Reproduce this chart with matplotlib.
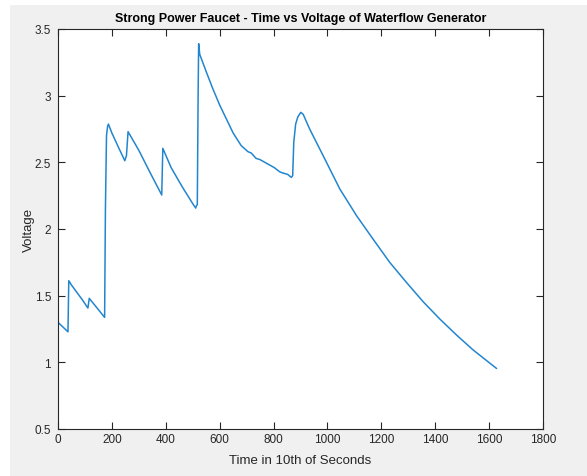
import matplotlib
matplotlib.use("Agg")
import matplotlib.pyplot as plt
from matplotlib.patches import Rectangle

# valori (tempo in decimi di secondo, tensione in volt)
tempo = [0, 37, 40, 50, 68, 90, 111, 116, 140, 173, 176, 180, 184, 187, 200, 225, 248, 254,
         260, 300, 340, 385, 389, 420, 460, 500, 511, 514, 517, 520, 522, 526, 550, 575, 600,
         625, 650, 680, 705, 717, 735, 750, 772, 803, 822, 834, 852, 866, 871, 875, 882, 890,
         901, 910, 934, 984, 1046, 1108, 1169, 1231, 1293, 1355, 1417, 1479, 1540, 1627]
tensione = [1.30, 1.229, 1.612, 1.58, 1.53, 1.47, 1.407, 1.48, 1.42, 1.337, 2.15, 2.70, 2.77,
            2.787, 2.72, 2.61, 2.512, 2.55, 2.73, 2.59, 2.43, 2.255, 2.605, 2.46, 2.32, 2.19,
            2.157, 2.175, 2.182, 3.0, 3.39, 3.31, 3.18, 3.05, 2.93, 2.825, 2.72, 2.625, 2.58,
            2.57, 2.53, 2.52, 2.495, 2.46, 2.43, 2.42, 2.41, 2.387, 2.40, 2.65, 2.787, 2.84,
            2.875, 2.86, 2.75, 2.55, 2.30, 2.10, 1.925, 1.75, 1.60, 1.455, 1.325, 1.205, 1.094,
            0.955]

x_ticks = [0, 200, 400, 600, 800, 1000, 1200, 1400, 1600, 1800]
y_ticks = [0.5, 1, 1.5, 2, 2.5, 3, 3.5]

plt.rcParams['font.family'] = ['Liberation Sans', 'DejaVu Sans']

W, H = 587, 477
fig = plt.figure(figsize=(W / 100, H / 100), dpi=100)
fig.patch.set_facecolor("white")
# sfondo grigio stile MATLAB
fig.patches.append(Rectangle((10 / W, 0), 1 - 10 / W, 1 - 6 / H, transform=fig.transFigure,
                             facecolor="#f0f0f0", edgecolor="none", zorder=-10))

ax = fig.add_axes([58 / W, 1 - 430 / H, (543 - 58) / W, (430 - 30) / H])
ax.set_facecolor("white")
ax.plot(tempo, tensione, color="#2286ce", linewidth=1.1)

ax.set_xlim(0, 1800)
ax.set_ylim(0.5, 3.5)
ax.set_xticks(x_ticks)
ax.set_yticks(y_ticks)
ax.set_yticklabels(["0.5", "1", "1.5", "2", "2.5", "3", "3.5"])

grigio = "#262626"
for s in ax.spines.values():
    s.set_color(grigio)
    s.set_linewidth(0.8)
ax.tick_params(direction="in", top=True, right=True, length=5, width=0.8,
               colors=grigio, labelsize=8.5, pad=3)
ax.tick_params(axis="y", pad=5)

ax.set_title("Strong Power Faucet - Time vs Voltage of Waterflow Generator",
             fontsize=9, fontweight="bold", color="black", pad=6)
ax.set_xlabel("Time in 10th of Seconds", fontsize=9.5, color=grigio, va="center")
ax.set_ylabel("Voltage", fontsize=9.5, color=grigio, va="center")
ax.xaxis.set_label_coords(0.5, -31 / 400)
ax.yaxis.set_label_coords(-29 / 485, 0.5)

fig.savefig("out.png", dpi=100)
